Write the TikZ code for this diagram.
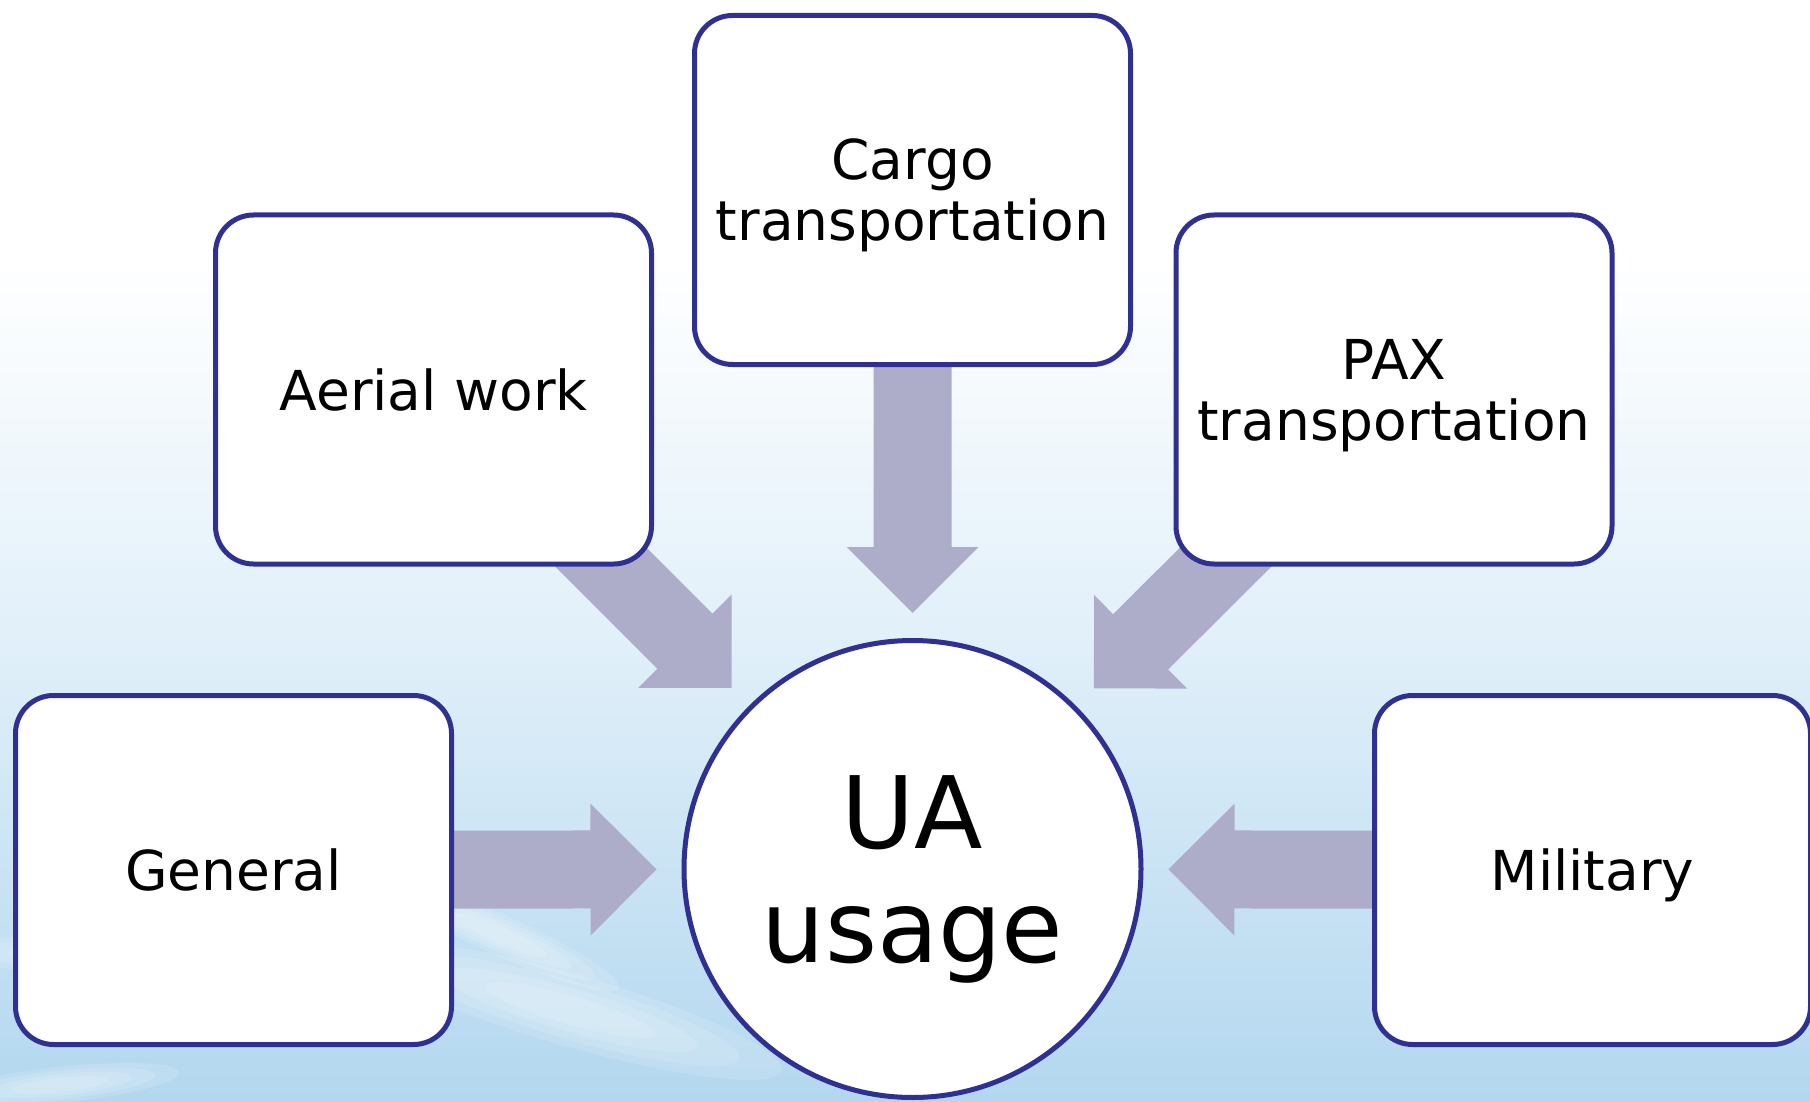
\documentclass[tikz,border=0pt]{standalone}
\usepackage{fontspec}
\setmainfont{DejaVu Sans}
\usetikzlibrary{calc}
\definecolor{boxblue}{HTML}{2E3192}
\definecolor{arrowgray}{HTML}{ADADCA}
\definecolor{skyA}{HTML}{E0EFF9}
\definecolor{skyB}{HTML}{B3D7EF}
\pgfdeclarelayer{backdrop}
\pgfdeclarelayer{arrowlayer}
\pgfsetlayers{backdrop,arrowlayer,main}
\tikzset{
  usebox/.style={draw=boxblue, line width=5pt, fill=white, rounded corners=38pt,
    minimum width=436pt, minimum height=349pt, inner sep=0pt, align=center,
    text depth=0pt, font=\fontsize{55}{61}\selectfont},
  hub/.style={draw=boxblue, line width=5pt, fill=white, circle, minimum size=457pt,
    inner sep=0pt, align=center, text depth=0pt, font=\fontsize{100}{114}\selectfont},
  fatarrow/.style={fill=arrowgray},
  cloud/.style={fill=white, opacity=0.13},
}
% #1 source node, #2 target node
\newcommand\radarrow[2]{%
  \path ($(#2)!256pt!(#1)$) coordinate (tp)
        ($(#2)!322pt!(#1)$) coordinate (hb)
        ($(#2)!520pt!(#1)$) coordinate (sb);
  \fill[fatarrow] (tp) -- ($(hb)!66pt!90:(#2)$) -- ($(hb)!39pt!90:(#2)$)
    -- ($(sb)!39pt!90:(#2)$) -- ($(sb)!39pt!-90:(#2)$)
    -- ($(hb)!39pt!-90:(#2)$) -- ($(hb)!66pt!-90:(#2)$) -- cycle;
}
\newcommand\softstreak[4]{% center, x radius, y radius, angle
  \foreach \s in {1,0.8,0.6,0.4}
    \fill[cloud, rotate around={#4:(#1)}] (#1) ellipse [x radius=\s*#2, y radius=\s*#3];
}
\begin{document}
\begin{tikzpicture}[x=1pt,y=-1pt]
\useasboundingbox (0,0) rectangle (1810,1102);
\begin{pgfonlayer}{backdrop}
  \fill[white] (0,0) rectangle (1810,262);
  \fill[top color=white, bottom color=skyA] (0,260) rectangle (1810,652);
  \fill[top color=skyA, bottom color=skyB] (0,650) rectangle (1810,1102);
  \softstreak{110,960}{170}{20}{-4}
  \softstreak{570,1010}{220}{36}{-16}
  \softstreak{500,935}{130}{20}{-24}
  \softstreak{60,1085}{120}{18}{6}
\end{pgfonlayer}

\node[hub] (ua) at (912.5,869) {UA\\usage};
\node[usebox] (cargo) at (912.5,190) {Cargo\\transportation};
\node[usebox] (aerial) at (433.5,389.5) {Aerial work};
\node[usebox] (pax) at (1394,389.5) {PAX\\transportation};
\node[usebox] (general) at (233.5,870) {General};
\node[usebox] (military) at (1592.5,870) {Military};

\begin{pgfonlayer}{arrowlayer}
  \radarrow{cargo}{ua}
  \radarrow{aerial}{ua}
  \radarrow{pax}{ua}
  \radarrow{general}{ua}
  \radarrow{military}{ua}
\end{pgfonlayer}
\end{tikzpicture}
\end{document}
